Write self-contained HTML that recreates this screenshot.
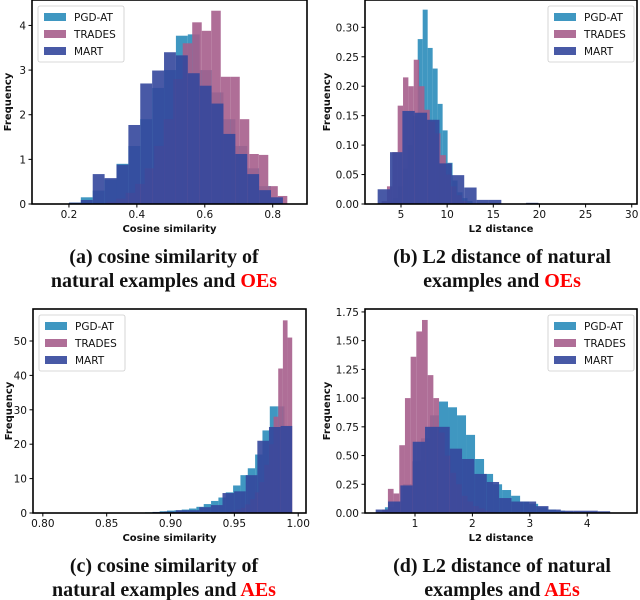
<!DOCTYPE html>
<html><head><meta charset="utf-8"><style>
html,body{margin:0;padding:0;background:#fff;}
svg{display:block;}
.tick{font-family:"DejaVu Sans","Liberation Sans",sans-serif;font-size:10.5px;fill:#111;}
.atitle{font-family:"DejaVu Sans","Liberation Sans",sans-serif;font-size:10px;font-weight:bold;fill:#111;}
.leg{font-family:"DejaVu Sans","Liberation Sans",sans-serif;font-size:10.5px;fill:#111;}
.cap{font-family:"Liberation Serif",serif;font-size:20px;font-weight:bold;fill:#111;}
</style></head><body>
<svg id="fig" width="640" height="600" viewBox="0 0 640 600"></svg>
<script>
// Panel (a) cosine similarity, OEs
const aPgdStart=0.2, aPgdWidth=0.035;
const aPgd=[0.03,0.15,0.3,0.55,0.9,1.3,1.9,2.6,3.0,3.77,3.8,3.0,2.5,1.9,1.3,0.8,0.4,0.15];
const aTradesStart=0.311, aTradesWidth=0.028;
const aTrades=[0.05,0.12,0.25,0.45,0.8,1.3,1.9,2.8,3.6,4.07,3.88,4.33,2.85,2.85,1.9,1.12,1.1,0.4,0.18];
const aMartStart=0.2, aMartWidth=0.035;
const aMart=[0.03,0.09,0.67,0.58,0.88,1.77,2.7,2.99,3.4,3.33,2.93,2.65,2.25,1.57,1.12,0.67,0.31,0.15];
const aXTicks=[0.2,0.4,0.6,0.8], aXLabels=["0.2","0.4","0.6","0.8"];
const aYTicks=[0,1,2,3,4], aYLabels=["0","1","2","3","4"];
// Panel (b) L2 distance, OEs
const bPgdStart=3.57, bPgdWidth=0.54;
const bPgd=[0.005,0.01,0.03,0.06,0.1,0.15,0.28,0.33,0.265,0.23,0.17,0.125,0.07,0.04,0.02,0.01,0.005];
const bTradesStart=2.9, bTradesWidth=0.58;
const bTrades=[0.005,0.03,0.088,0.167,0.215,0.2,0.245,0.2,0.16,0.14,0.12,0.083,0.05,0.03,0.015,0.005];
const bMartStart=2.47, bMartWidth=1.34;
const bMart=[0.025,0.088,0.158,0.155,0.143,0.069,0.049,0.028,0.007,0.007,0,0,0.002];
const bXTicks=[5,10,15,20,25,30], bXLabels=["5","10","15","20","25","30"];
const bYTicks=[0,0.05,0.1,0.15,0.2,0.25,0.3], bYLabels=["0.00","0.05","0.10","0.15","0.20","0.25","0.30"];
// Panel (c) cosine similarity, AEs
const cPgdStart=0.88, cPgdWidth=0.00575;
const cPgd=[0.2,0.3,0.5,0.7,0.8,1.0,1.3,1.8,2.6,3.5,4.5,6,8,11,13,17,24,31,31,25];
const cTradesStart=0.9442, cTradesWidth=0.00365;
const cTrades=[0.3,0.6,1,1.5,2.5,4,6,9,14,20,28,42,56,51];
const cMartStart=0.8861, cMartWidth=0.0091;
const cMart=[0.3,0.4,0.8,0.8,1.7,2.3,5.8,6.3,11,21,25,25.3];
const cXTicks=[0.8,0.85,0.9,0.95,1.0], cXLabels=["0.80","0.85","0.90","0.95","1.00"];
const cYTicks=[0,10,20,30,40,50], cYLabels=["0","10","20","30","40","50"];
// Panel (d) L2 distance, AEs
const dPgdStart=0.476, dPgdWidth=0.157;
const dPgd=[0.05,0.1,0.25,0.45,0.65,0.85,0.97,0.92,0.85,0.68,0.47,0.34,0.25,0.2,0.15,0.1,0.08,0.05,0.03,0.02,0.01];
const dTradesStart=0.33, dTradesWidth=0.099;
const dTrades=[0.01,0.03,0.21,0.17,0.59,1.0,1.36,1.58,1.68,1.2,1.0,0.7,0.5,0.35,0.25,0.15,0.1,0.06,0.04,0.02,0.01];
const dMartStart=0.315, dMartWidth=0.215;
const dMart=[0.03,0.1,0.24,0.62,0.75,0.75,0.56,0.47,0.34,0.27,0.13,0.1,0.1,0.06,0.03,0.02,0.02,0.02,0.015];
const dXTicks=[1,2,3,4], dXLabels=["1","2","3","4"];
const dYTicks=[0,0.25,0.5,0.75,1,1.25,1.5,1.75], dYLabels=["0.00","0.25","0.50","0.75","1.00","1.25","1.50","1.75"];

const seriesNames=["PGD-AT","TRADES","MART"];
const seriesColors=["#2a8cba","#a65e8c","#34479c"];
const NS="http://www.w3.org/2000/svg";
const fig=document.getElementById('fig');
function mk(tag,attrs,parent){const e=document.createElementNS(NS,tag);for(const k in attrs)e.setAttribute(k,attrs[k]);(parent||fig).appendChild(e);return e;}

function panel(id,box,xd,yd,series,xt,xl,yt,yl,xtitle,legRight){
  const g=mk('g',{});
  
  
  const sx=v=>box.x0+(v-xd[0])/(xd[1]-xd[0])*(box.x1-box.x0);
  const sy=v=>box.y1-(v-yd[0])/(yd[1]-yd[0])*(box.y1-box.y0);
  series.forEach((s,si)=>{
    s.vals.forEach((v,i)=>{
      if(v<=0)return;
      const a=sx(s.start+i*s.width), b=sx(s.start+(i+1)*s.width);
      const r=mk('rect',{x:a,y:sy(v),width:b-a,height:sy(0)-sy(v),fill:seriesColors[si],'fill-opacity':0.9},g);
      
      
    });
  });
  const fr=mk('rect',{x:box.x0,y:box.y0,width:box.x1-box.x0,height:box.y1-box.y0,fill:'none',stroke:'#000','stroke-width':1.6},g);
  
  
  xt.forEach((v,i)=>{
    const x=sx(v);
    mk('line',{x1:x,x2:x,y1:box.y1,y2:box.y1+3.5,stroke:'#000','stroke-width':1},g);
    const t=mk('text',{x:x,y:box.y1+14,'text-anchor':'middle',class:'tick'},g);
    t.textContent=xl[i];
    
    
  });
  yt.forEach((v,i)=>{
    const y=sy(v);
    mk('line',{x1:box.x0-3.5,x2:box.x0,y1:y,y2:y,stroke:'#000','stroke-width':1},g);
    const t=mk('text',{x:box.x0-6,y:y+4,'text-anchor':'end',class:'tick'},g);
    t.textContent=yl[i];
    
    
  });
  const xtt=mk('text',{x:(box.x0+box.x1)/2,y:box.y1+28,'text-anchor':'middle',class:'atitle'},g);
  xtt.textContent=xtitle;
  
  
  const yc=(box.y0+box.y1)/2, yx=box.x0-(yl[0].length>2?29:15)-6;
  const ytt=mk('text',{x:yx,y:yc,'text-anchor':'middle',class:'atitle',transform:'rotate(-90 '+yx+' '+yc+')'},g);
  ytt.textContent='Frequency';
  
  
  const lx=legRight?box.x1-89:box.x0+6, ly=box.y0+6;
  const lg=mk('g',{},g);
  
  
  mk('rect',{x:lx,y:ly,width:86,height:56,rx:2,fill:'#fff','fill-opacity':0.8,stroke:'#ccc','stroke-width':0.8},lg);
  seriesNames.forEach((n,i)=>{
    const ey=ly+7+i*17;
    const p=mk('rect',{x:lx+6,y:ey,width:22,height:8,fill:seriesColors[i],'fill-opacity':0.9},lg);
    
    
    const t=mk('text',{x:lx+36,y:ey+8,class:'leg'},lg);
    t.textContent=n;
    
    
  });
}
function caption(id,cx,y,l1,l2,red){
  const t1=mk('text',{x:cx,y:y,'text-anchor':'middle',class:'cap'});
  t1.textContent=l1;
  
  
  const t2=mk('text',{x:cx,y:y+24,'text-anchor':'middle',class:'cap'});
  
  
  const s1=mk('tspan',{},t2);s1.textContent=l2+' ';
  const s2=mk('tspan',{fill:'#ff0000'},t2);s2.textContent=red;
}
panel('a',{x0:32,x1:307,y0:0,y1:204},[0.0912,0.901],[0,4.57],
  [{start:aPgdStart,width:aPgdWidth,vals:aPgd},{start:aTradesStart,width:aTradesWidth,vals:aTrades},{start:aMartStart,width:aMartWidth,vals:aMart}],
  aXTicks,aXLabels,aYTicks,aYLabels,'Cosine similarity',false);
panel('b',{x0:365,x1:637,y0:0,y1:204},[1.1,30.57],[0,0.3464],
  [{start:bPgdStart,width:bPgdWidth,vals:bPgd},{start:bTradesStart,width:bTradesWidth,vals:bTrades},{start:bMartStart,width:bMartWidth,vals:bMart}],
  bXTicks,bXLabels,bYTicks,bYLabels,'L2 distance',true);
panel('c',{x0:33,x1:306,y0:309,y1:513},[0.7923,1.0061],[0,59.3],
  [{start:cPgdStart,width:cPgdWidth,vals:cPgd},{start:cTradesStart,width:cTradesWidth,vals:cTrades},{start:cMartStart,width:cMartWidth,vals:cMart}],
  cXTicks,cXLabels,cYTicks,cYLabels,'Cosine similarity',false);
panel('d',{x0:365,x1:637,y0:309,y1:513},[0.1289,4.8676],[0,1.7755],
  [{start:dPgdStart,width:dPgdWidth,vals:dPgd},{start:dTradesStart,width:dTradesWidth,vals:dTrades},{start:dMartStart,width:dMartWidth,vals:dMart}],
  dXTicks,dXLabels,dYTicks,dYLabels,'L2 distance',true);
caption('a',164,263,'(a) cosine similarity of','natural examples and','OEs');
caption('b',502,263,'(b) L2 distance of natural','examples and','OEs');
caption('c',164,572,'(c) cosine similarity of','natural examples and','AEs');
caption('d',502,572,'(d) L2 distance of natural','examples and','AEs');
</script>
</body></html>
